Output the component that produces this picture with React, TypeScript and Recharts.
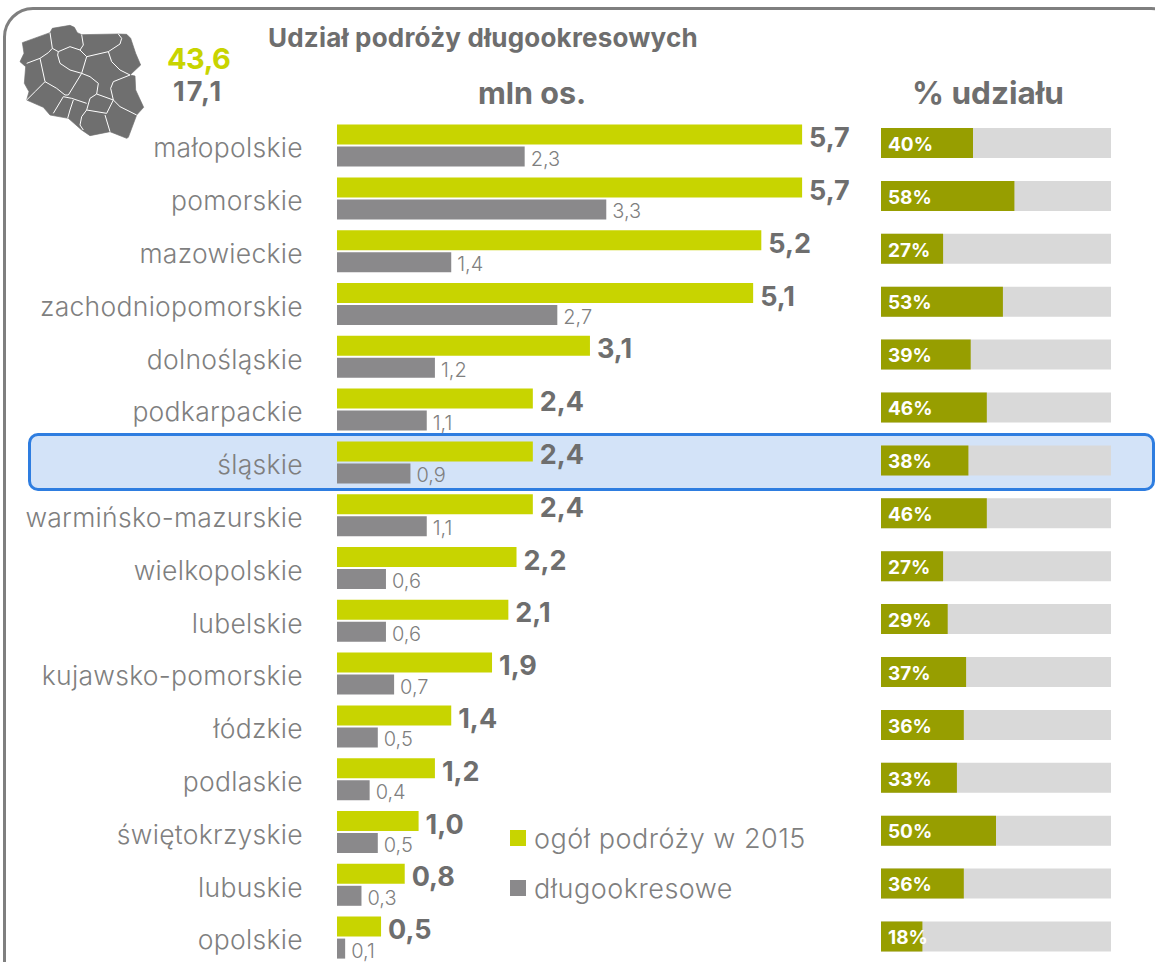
import React from "react";
import { BarChart, Bar, XAxis, YAxis, LabelList, Legend } from "recharts";

const regions = [
  "małopolskie",
  "pomorskie",
  "mazowieckie",
  "zachodniopomorskie",
  "dolnośląskie",
  "podkarpackie",
  "śląskie",
  "warmińsko-mazurskie",
  "wielkopolskie",
  "lubelskie",
  "kujawsko-pomorskie",
  "łódzkie",
  "podlaskie",
  "świętokrzyskie",
  "lubuskie",
  "opolskie",
];
const allTrips = [5.7, 5.7, 5.2, 5.1, 3.1, 2.4, 2.4, 2.4, 2.2, 2.1, 1.9, 1.4, 1.2, 1.0, 0.83, 0.54];
const longTrips = [2.3, 3.3, 1.4, 2.7, 1.2, 1.1, 0.9, 1.1, 0.6, 0.6, 0.7, 0.5, 0.4, 0.5, 0.3, 0.1];
const sharePct = [40, 58, 27, 53, 39, 46, 38, 46, 27, 29, 37, 36, 33, 50, 36, 18];

const tripRows = regions.map((region, i) => ({
  region,
  all: allTrips[i],
  long: longTrips[i],
}));
const shareRows = regions.map((region, i) => ({ region, share: sharePct[i] }));

const LIME = "#c8d400";
const GREY_BAR = "#8a898b";
const OLIVE = "#979e00";
const TRACK = "#d9d9d9";
const TEXT = "#7f7f7f";
const DARK = "#6e6e6e";
const FONT = "Inter, Lato, sans-serif";

const comma = (v: any) => Number(v).toFixed(1).replace(".", ",");

const mapOutline =
  "M22,68 L105,38 L112,25 L165,16 L178,22 L187,38 L200,44 L310,42 L335,43 L347,55 L362,100 L377,135 L345,165 L360,168 L362,210 L386,262 L365,285 L340,352 L335,355 L285,335 L225,347 L200,330 L160,295 L105,285 L85,262 L35,240 L42,215 L28,190 L32,140 L15,125 L27,100 Z";
const mapBorders = [
  "M105,38 L112,85 L100,98 L75,115 L35,130",
  "M112,85 L130,95 L165,80 L195,90 L215,110 L280,95 L315,72 L320,55 L310,42",
  "M195,90 L205,75 L200,44",
  "M215,110 L200,160 L165,150 L135,130 L128,105 L130,95",
  "M280,95 L290,125 L315,150 L345,165",
  "M345,165 L295,185 L287,205 L295,240 L245,222",
  "M200,160 L225,170 L250,190 L245,222 L225,235 L215,270",
  "M200,160 L160,225 L150,225 L125,205 L90,185 L75,115",
  "M90,185 L60,215 L35,240",
  "M145,230 L115,280",
  "M145,230 L170,235 L215,250",
  "M175,240 L165,270 L158,295",
  "M295,240 L315,260 L345,275 L365,285",
  "M295,240 L275,280 L215,270",
  "M215,270 L200,290 L195,315 L205,330",
  "M270,285 L285,335",
];

const LegendList = ({ payload }: any) => (
  <div>
    {(payload || []).map((item: any) => (
      <div
        key={item.value}
        style={{ display: "flex", alignItems: "center", height: 50, fontSize: 27, letterSpacing: 0.5, color: TEXT, fontFamily: FONT, fontWeight: 300, whiteSpace: "nowrap" }}
      >
        <span style={{ width: 16, height: 16, background: item.color, marginRight: 8 }} />
        {item.value}
      </div>
    ))}
  </div>
);

const Caption = ({ x, y, size, color, weight, spacing, children }: any) => (
  <div
    style={{
      position: "absolute",
      left: x,
      top: y,
      transform: "translateY(-50%)",
      fontSize: size,
      color,
      fontWeight: weight,
      fontFamily: FONT,
      letterSpacing: spacing,
      whiteSpace: "nowrap",
      lineHeight: 1,
    }}
  >
    {children}
  </div>
);

export default function App() {
  return (
    <div style={{ position: "fixed", left: 0, top: 0, width: 1155, height: 962, overflow: "hidden", background: "#fff" }}>
      {/* frame runs past the right and bottom edge, as in the source slide */}
      <div style={{ position: "absolute", left: 3, top: 7, width: 1172, height: 980, border: "3px solid #7f7f7f", borderRadius: 30 }} />

      {/* highlighted row */}
      <div style={{ position: "absolute", left: 28, top: 433, width: 1121, height: 52, background: "#d3e3f8", border: "3px solid #2e7de0", borderRadius: 10 }} />

      <svg style={{ position: "absolute", left: 15, top: 20 }} width={130} height={125} viewBox="0 0 390 375">
        <path d={mapOutline} fill="#6f6f6f" stroke="#6f6f6f" strokeLinejoin="round" strokeWidth={2} />
        {mapBorders.map((d) => (
          <path key={d} d={d} fill="none" stroke="#fff" strokeWidth={3} strokeLinejoin="round" />
        ))}
      </svg>

      <Caption x={268} y={38} size={26} spacing={0.2} color={DARK} weight={700}>Udział podróży długookresowych</Caption>
      <Caption x={167} y={58} size={29} spacing={-0.5} color={LIME} weight={700}>43,6</Caption>
      <Caption x={173} y={91} size={27} spacing={2} color={DARK} weight={700}>17,1</Caption>
      <Caption x={478} y={93} size={30.5} color={DARK} weight={700}>mln os.</Caption>
      <Caption x={912} y={93} size={31.5} color={DARK} weight={700}>% udziału</Caption>

      <div style={{ position: "absolute", left: 0, top: 0 }}>
        <BarChart
          width={867.4}
          height={965}
          data={tripRows}
          layout="vertical"
          barSize={20}
          barGap={2}
          margin={{ top: 119.6, right: 0, bottom: 0.6, left: 0 }}
        >
          <XAxis type="number" domain={[0, 6.5]} hide />
          <YAxis
            type="category"
            dataKey="region"
            width={337}
            axisLine={false}
            tickLine={false}
            tickMargin={28}
            interval={0}
            tick={{ fontSize: 26.5, fill: TEXT, fontFamily: FONT, fontWeight: 300, letterSpacing: 0.3, dy: 2 }}
          />
          <Legend
            layout="vertical"
            align="center"
            verticalAlign="middle"
            itemSorter={null}
            content={<LegendList />}
            wrapperStyle={{ position: "absolute", left: 510, top: 813, width: 320, bottom: "auto" }}
          />
          <Bar dataKey="all" name="ogół podróży w 2015" fill={LIME} isAnimationActive={false}>
            <LabelList dataKey="all" position="right" offset={7} dy={3} formatter={comma} fill={DARK} fontSize={27} fontWeight={700} fontFamily={FONT} />
          </Bar>
          <Bar dataKey="long" name="długookresowe" fill={GREY_BAR} isAnimationActive={false}>
            <LabelList dataKey="long" position="right" offset={6} dy={2} formatter={comma} fill={TEXT} fontSize={20} fontWeight={300} fontFamily={FONT} />
          </Bar>
        </BarChart>
      </div>

      <div style={{ position: "absolute", left: 881, top: 116.55 }}>
        <BarChart
          width={230}
          height={846.4}
          data={shareRows}
          layout="vertical"
          barSize={30}
          margin={{ top: 0, right: 0, bottom: 0, left: 0 }}
        >
          <XAxis type="number" domain={[0, 100]} hide />
          <YAxis type="category" dataKey="region" hide />
          <Bar dataKey="share" fill={OLIVE} background={{ fill: TRACK }} isAnimationActive={false}>
            <LabelList
              dataKey="share"
              position="insideLeft"
              offset={7}
              dy={1}
              formatter={(v: any) => `${v}%`}
              fill="#fff"
              fontSize={19}
              fontWeight={700}
              fontFamily={FONT}
            />
          </Bar>
        </BarChart>
      </div>
    </div>
  );
}
